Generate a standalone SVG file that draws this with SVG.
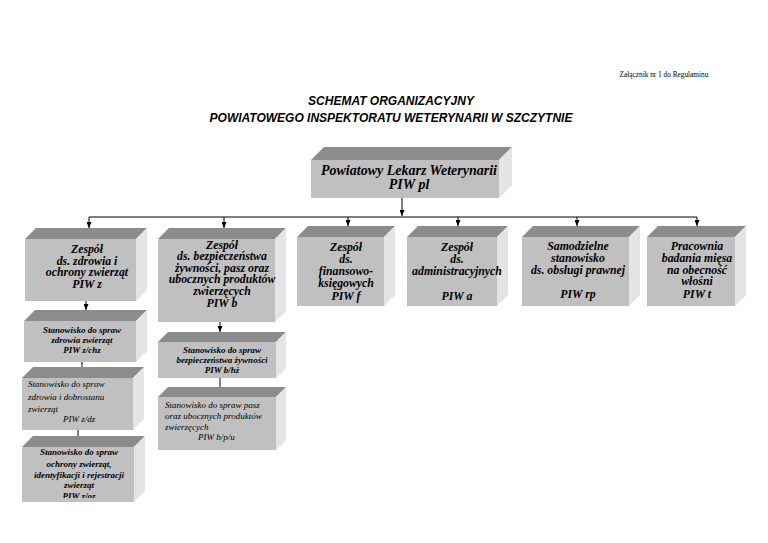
<svg xmlns="http://www.w3.org/2000/svg" width="768" height="543" viewBox="0 0 768 543">
<style>
.top{fill:#8c8c8c}
.front{fill:#c0c0c0}
.side{fill:#e4e4e4}
.conn{stroke:#000;stroke-width:1;fill:none}
.t{font-family:"Liberation Serif","Times New Roman",serif;font-style:italic;font-weight:bold;fill:#000;text-anchor:middle}
.b{font-size:11.8px}
.s{font-size:9px}
.sl{font-family:"Liberation Serif","Times New Roman",serif;font-style:italic;font-size:9px;fill:#000}
.title{font-family:"Liberation Sans",Arial,sans-serif;font-style:italic;font-weight:bold;font-size:12px;text-anchor:middle;fill:#000}
</style>
<defs>
<marker id="ah" viewBox="0 0 10 10" refX="10" refY="5" markerWidth="6" markerHeight="5" orient="auto" markerUnits="userSpaceOnUse" preserveAspectRatio="none">
<path d="M0,0 L10,5 L0,10 z" fill="#000"/>
</marker>
<clipPath id="clipoz"><rect x="22" y="447" width="124" height="51"/></clipPath>
</defs>
<rect width="768" height="543" fill="#fff"/>
<text x="664" y="77" font-family="'Liberation Serif','Times New Roman',serif" font-size="7.3" text-anchor="middle">Załącznik nr 1 do Regulaminu</text>
<text class="title" x="391" y="105">SCHEMAT ORGANIZACYJNY</text>
<text class="title" x="391" y="122">POWIATOWEGO INSPEKTORATU WETERYNARII W SZCZYTNIE</text>

<g id="connectors">
<line class="conn" x1="402" y1="198" x2="402" y2="216" marker-end="url(#ah)"/>
<line class="conn" x1="89" y1="217" x2="697" y2="217"/>
<line class="conn" x1="89" y1="217" x2="89" y2="228" marker-end="url(#ah)"/>
<line class="conn" x1="224" y1="217" x2="224" y2="228" marker-end="url(#ah)"/>
<line class="conn" x1="348" y1="217" x2="348" y2="226" marker-end="url(#ah)"/>
<line class="conn" x1="458" y1="217" x2="458" y2="226" marker-end="url(#ah)"/>
<line class="conn" x1="577" y1="217" x2="577" y2="226" marker-end="url(#ah)"/>
<line class="conn" x1="697" y1="217" x2="697" y2="226" marker-end="url(#ah)"/>
<line class="conn" x1="86" y1="301" x2="86" y2="310" marker-end="url(#ah)"/>
<line class="conn" x1="82" y1="362" x2="82" y2="367"/>
<line class="conn" x1="78" y1="430" x2="78" y2="436"/>
<line class="conn" x1="220" y1="322" x2="220" y2="332" marker-end="url(#ah)"/>
<line class="conn" x1="220" y1="378" x2="220" y2="387"/>
</g>

<g id="plw">
<rect class="front" x="311" y="160" width="188" height="38"/>
<polygon class="top" points="311,160 324,147 512,147 499,160"/>
<polygon class="side" points="499,160 512,147 512,185 499,198"/>
<text class="t" font-size="14" x="409" y="175">Powiatowy Lekarz Weterynarii</text>
<text class="t" font-size="14" x="409" y="189">PIW pl</text>
</g>

<g id="piw-z">
<rect class="front" x="25" y="239" width="111" height="62"/>
<polygon class="top" points="25,239 36,228 147,228 136,239"/>
<polygon class="side" points="136,239 147,228 147,290 136,301"/>
<text class="t b" x="87" y="253">Zespół</text>
<text class="t b" x="87" y="264.5">ds.  zdrowia i</text>
<text class="t b" x="87" y="276">ochrony zwierząt</text>
<text class="t b" x="87" y="287.5">PIW z</text>
</g>

<g id="piw-b">
<rect class="front" x="158" y="239" width="117" height="83"/>
<polygon class="top" points="158,239 169,228 286,228 275,239"/>
<polygon class="side" points="275,239 286,228 286,311 275,322"/>
<text class="t b" x="222" y="248.5">Zespół</text>
<text class="t b" x="222" y="260">ds. bezpieczeństwa</text>
<text class="t b" x="222" y="271.5">żywności, pasz oraz</text>
<text class="t b" x="222" y="283">ubocznych produktów</text>
<text class="t b" x="222" y="295">zwierzęcych</text>
<text class="t b" x="222" y="306.5">PIW b</text>
</g>

<g id="piw-f">
<rect class="front" x="297" y="237" width="87" height="69"/>
<polygon class="top" points="297,237 308,226 395,226 384,237"/>
<polygon class="side" points="384,237 395,226 395,295 384,306"/>
<text class="t b" x="346" y="250.5">Zespół</text>
<text class="t b" x="346" y="263">ds.</text>
<text class="t b" x="346" y="275">finansowo-</text>
<text class="t b" x="346" y="287">księgowych</text>
<text class="t b" x="346" y="299.5">PIW f</text>
</g>

<g id="piw-a">
<rect class="front" x="407" y="237" width="90" height="69"/>
<polygon class="top" points="407,237 418,226 508,226 497,237"/>
<polygon class="side" points="497,237 508,226 508,295 497,306"/>
<text class="t b" x="457" y="250.5">Zespół</text>
<text class="t b" x="457" y="262.5">ds.</text>
<text class="t b" x="457" y="275">administracyjnych</text>
<text class="t b" x="457" y="299.5">PIW a</text>
</g>

<g id="piw-rp">
<rect class="front" x="522" y="237" width="107" height="69"/>
<polygon class="top" points="522,237 533,226 640,226 629,237"/>
<polygon class="side" points="629,237 640,226 640,295 629,306"/>
<text class="t b" x="578" y="250">Samodzielne</text>
<text class="t b" x="578" y="262">stanowisko</text>
<text class="t b" x="578" y="273.5">ds. obsługi prawnej</text>
<text class="t b" x="578" y="298">PIW rp</text>
</g>

<g id="piw-t">
<rect class="front" x="647" y="237" width="88" height="69"/>
<polygon class="top" points="647,237 658,226 746,226 735,237"/>
<polygon class="side" points="735,237 746,226 746,295 735,306"/>
<text class="t b" x="697" y="250">Pracownia</text>
<text class="t b" x="697" y="262">badania mięsa</text>
<text class="t b" x="697" y="273.5">na obecność</text>
<text class="t b" x="697" y="285">włośni</text>
<text class="t b" x="697" y="298">PIW t</text>
</g>

<g id="piw-zchz">
<rect class="front" x="24" y="321" width="112" height="41"/>
<polygon class="top" points="24,321 35,310 147,310 136,321"/>
<polygon class="side" points="136,321 147,310 147,351 136,362"/>
<text class="t s" x="82" y="333">Stanowisko do spraw</text>
<text class="t s" x="82" y="343">zdrowia zwierząt</text>
<text class="t s" x="82" y="353">PIW z/chz</text>
</g>

<g id="piw-zdz">
<rect class="front" x="22" y="378" width="111" height="52"/>
<polygon class="top" points="22,378 33,367 144,367 133,378"/>
<polygon class="side" points="133,378 144,367 144,419 133,430"/>
<text class="sl" x="28" y="387">Stanowisko do spraw</text>
<text class="sl" x="28" y="399.5">zdrowia i dobrostanu</text>
<text class="sl" x="28" y="411.5">zwierząt</text>
<text class="sl" x="63" y="422">PIW z/dz</text>
</g>

<g id="piw-zoz">
<rect class="front" x="22" y="447" width="112" height="55"/>
<polygon class="top" points="22,447 33,436 145,436 134,447"/>
<polygon class="side" points="134,447 145,436 145,491 134,502"/>
<g clip-path="url(#clipoz)">
<text class="t s" x="79" y="455">Stanowisko do spraw</text>
<text class="t s" x="79" y="466.5">ochrony zwierząt,</text>
<text class="t s" x="79" y="477.5">identyfikacji i rejestracji</text>
<text class="t s" x="79" y="488">zwierząt</text>
<text class="t s" x="79" y="499">PIW z/oz</text>
</g>
</g>

<g id="piw-bhz">
<rect class="front" x="158" y="342" width="118" height="36"/>
<polygon class="top" points="158,342 168,332 286,332 276,342"/>
<polygon class="side" points="276,342 286,332 286,368 276,378"/>
<text class="t s" x="222" y="353">Stanowisko  do spraw</text>
<text class="t s" x="222" y="363">bezpieczeństwa żywności</text>
<text class="t s" x="222" y="373">PIW b/hż</text>
</g>

<g id="piw-bpu">
<rect class="front" x="158" y="397" width="118" height="53"/>
<polygon class="top" points="158,397 168,387 286,387 276,397"/>
<polygon class="side" points="276,397 286,387 286,440 276,450"/>
<text class="sl" x="165" y="408">Stanowisko do spraw pasz</text>
<text class="sl" x="165" y="419">oraz ubocznych produktów</text>
<text class="sl" x="165" y="430">zwierzęcych</text>
<text class="sl" x="198" y="439.5">PIW b/p/u</text>
</g>
</svg>
